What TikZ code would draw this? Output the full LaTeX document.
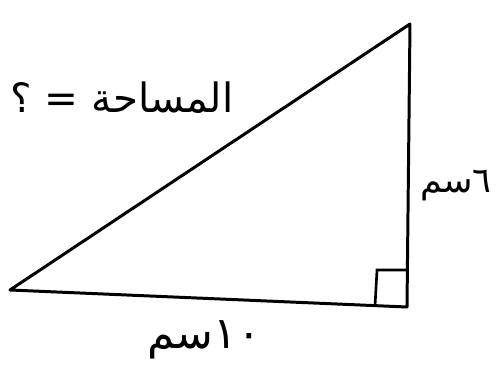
\documentclass[tikz,border=0pt]{standalone}
\usepackage{fontspec}
\newfontfamily\arabicfont[Script=Arabic]{DejaVu Sans}
\TeXXeTstate=1
\usepackage{tikz}
\usetikzlibrary{positioning,calc}
\tikzset{
    % Triangle side style
    sideline/.style={
        draw=black,
        line width=1.7pt,
        line join=round,
        line cap=round
    },
    % Right angle mark
    rightmark/.style={
        draw=black,
        line width=1.5pt
    },
    % Label style
    lbl/.style={
        font=\arabicfont\fontsize{22}{26}\selectfont,
        inner sep=0pt
    }
}
\begin{document}
\begin{tikzpicture}[x=0.02cm, y=-0.02cm]
        \useasboundingbox (0,0) rectangle (501,372);

        % Vertices
        \coordinate (A) at (10,290);
        \coordinate (B) at (407,307);
        \coordinate (C) at (410,24);

        % Sides
        \draw[sideline] (A) -- (B) -- (C) -- cycle;

        % Right angle
        \coordinate (m1) at (375,306);
        \coordinate (m2) at (377,270);
        \coordinate (m3) at (408,270);
        \draw[rightmark] (m1) -- (m2) -- (m3);

        % Labels
        \node[lbl, font=\arabicfont\fontsize{23}{27}\selectfont] (area) at (122,98) {\beginR المساحة = ؟\endR};
        \node[lbl, font=\arabicfont\fontsize{20}{24}\selectfont] (height) at (456,186) {\beginR ٦سم\endR};
        \node[lbl, font=\arabicfont\fontsize{25}{29}\selectfont] (base) at (204,340) {\beginR ١٠سم\endR};
    \end{tikzpicture}
\end{document}
